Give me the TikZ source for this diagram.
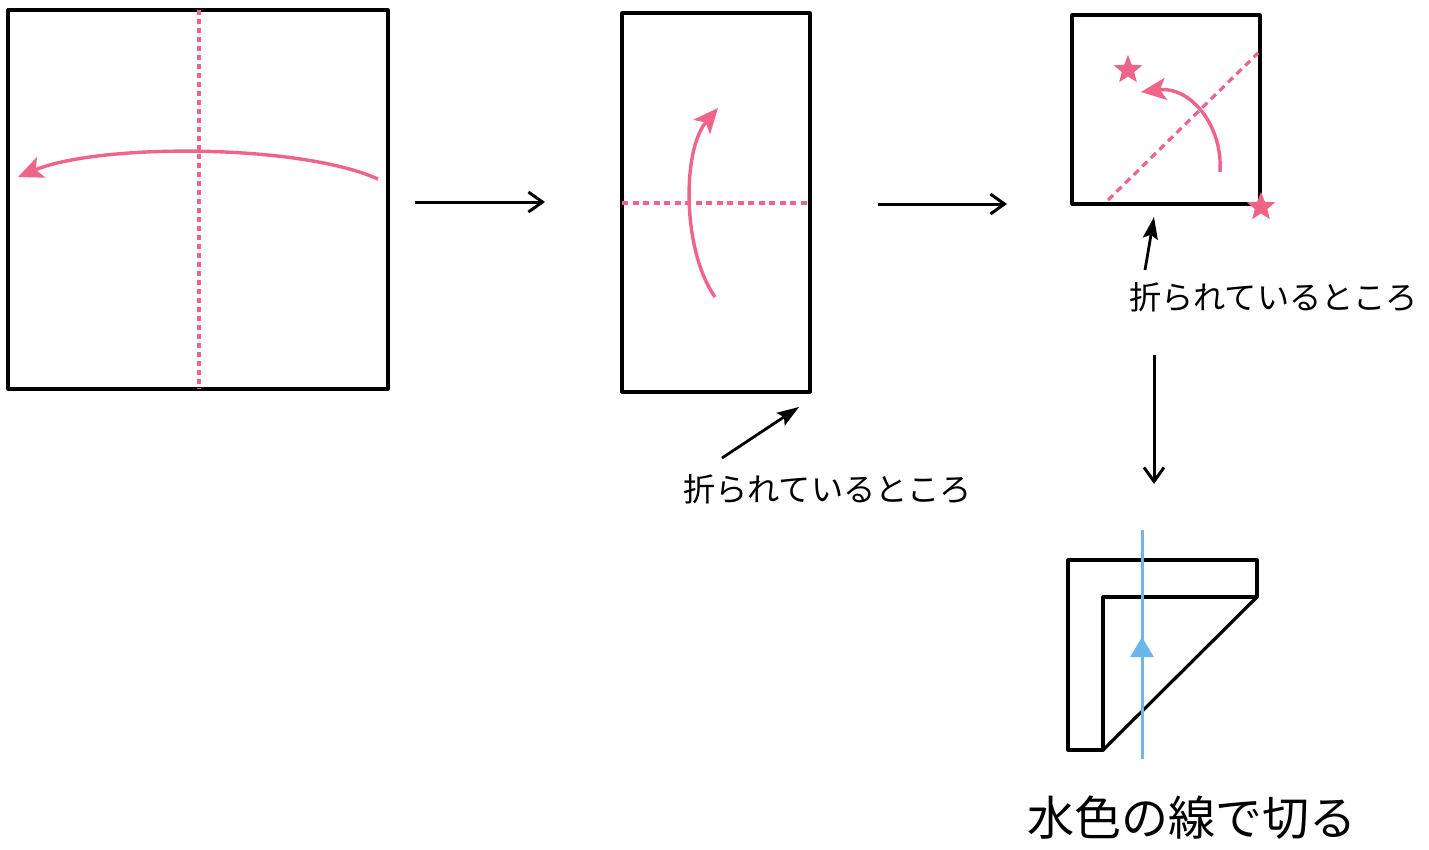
\documentclass[tikz,border=0pt]{standalone}
\usepackage{fontspec}
\newfontfamily\jp{Noto Sans CJK JP}
\usetikzlibrary{arrows.meta,shapes.geometric}
\definecolor{pinkc}{RGB}{240,100,138}
\definecolor{bluec}{RGB}{108,182,232}
\tikzset{
  paper/.style={draw=black,line width=3.2pt,line join=round},
  foldline/.style={draw=pinkc,line width=3.2pt,dash pattern=on 5pt off 4pt},
  foldarrow/.style={draw=pinkc,line width=3.4pt,-{Stealth[length=25pt,width=22pt,inset=6pt]}},
  steparrow/.style={draw=black,line width=3pt,-{Straight Barb[length=14pt,width=20pt,line width=3pt]}},
  notearrow/.style={draw=black,line width=2.8pt,-{Stealth[length=22pt,width=15pt,inset=4pt]}},
  notelabel/.style={font=\jp\fontsize{32.2}{35}\selectfont,inner sep=0pt},
  pinkstar/.style={star,star points=5,star point ratio=2.3,fill=pinkc,minimum size=30pt,inner sep=0pt}
}
\begin{document}
\begin{tikzpicture}[x=1pt,y=-1pt]
\useasboundingbox (0,0) rectangle (1429,849);
\fill[white] (0,0) rectangle (1429,849);
% square 1
\draw[paper] (8,10) rectangle (388,389);
\coordinate (s1t) at (199,10);
\coordinate (s1b) at (199,389);
\draw[foldline] (s1t) -- (s1b);
\coordinate (a1s) at (378,179);
\coordinate (a1e) at (18,177);
\draw[foldarrow] (a1s) .. controls (300,144) and (100,143) .. (a1e);
% step arrow 1
\coordinate (st1a) at (415,202);
\coordinate (st1b) at (545,202);
\draw[steparrow] (st1a) -- (st1b);
% rectangle 2
\draw[paper] (622,13) rectangle (810,392);
\coordinate (s2l) at (622,203);
\coordinate (s2r) at (810,203);
\draw[foldline,dash pattern=on 6pt off 4.5pt] (s2l) -- (s2r);
\coordinate (a2s) at (715,297);
\coordinate (a2e) at (718,108);
\draw[foldarrow] (a2s) .. controls (682,250) and (682,150) .. (a2e);
% note 1
\coordinate (n1s) at (722,458);
\coordinate (n1e) at (799,407);
\draw[notearrow] (n1s) -- (n1e);
\node[notelabel,anchor=west] (lab1) at (683,489) {折られているところ};
% step arrow 2
\coordinate (st2a) at (878,204);
\coordinate (st2b) at (1007,204);
\draw[steparrow] (st2a) -- (st2b);
% square 3
\draw[paper] (1072,15) rectangle (1260,204);
\coordinate (d3a) at (1108,200);
\coordinate (d3b) at (1258,53);
\draw[foldline,dash pattern=on 7pt off 5pt] (d3a) -- (d3b);
\coordinate (a3s) at (1220,172);
\coordinate (a3e) at (1141,92);
\draw[foldarrow] (a3s) .. controls (1223,125) and (1190,86) .. (a3e);
\node[pinkstar] (star1) at (1128,70) {};
\node[pinkstar] (star2) at (1261,207) {};
% note 2
\coordinate (n2s) at (1145,270);
\coordinate (n2e) at (1154,217);
\draw[notearrow] (n2s) -- (n2e);
\node[notelabel,anchor=west] (lab2) at (1129,297) {折られているところ};
% step arrow 3
\coordinate (st3a) at (1154,355);
\coordinate (st3b) at (1154,484);
\draw[steparrow] (st3a) -- (st3b);
% final folded shape
\draw[paper] (1257,597) -- (1103,597) -- (1103,750) -- (1068,750) -- (1068,560) -- (1257,560) -- cycle;
\draw[paper] (1103,750) -- (1257,597);
% cut line
\coordinate (cb) at (1142,759);
\coordinate (ct) at (1142,530);
\coordinate (cm) at (1142,637);
\draw[bluec,line width=3pt] (cb) -- (ct);
\draw[bluec,line width=3pt,-{Triangle[length=20pt,width=23pt]}] (cb) -- (cm);
\node[font=\jp\fontsize{47}{50}\selectfont,inner sep=0pt,anchor=west] (lab3) at (1027,818) {水色の線で切る};
\end{tikzpicture}
\end{document}
